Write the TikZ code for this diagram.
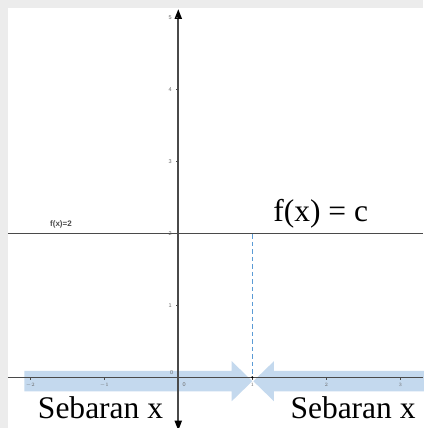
\documentclass[tikz,border=0pt]{standalone}
\usepackage{fontspec}
\setmainfont{Liberation Serif}
\setsansfont{Liberation Sans}
\usetikzlibrary{arrows.meta}
\definecolor{pgback}{HTML}{ECECEC}
\definecolor{axgray}{HTML}{4A4A4A}
\definecolor{bandblue}{HTML}{C4D9EE}
\definecolor{dashblue}{HTML}{5B9BD5}
\definecolor{tickgray}{HTML}{6A6A6A}

\begin{document}
\begin{tikzpicture}[x=74pt, y=72pt, line width=1.4pt,
    bigtext/.style={font=\fontsize{31.5}{32}\selectfont, inner sep=0pt},
    ticklab/.style={font=\sffamily\fontsize{5.5}{5.5}\selectfont, text=tickgray, inner sep=0pt}]
  % page and plot area
  \fill[pgback] (-2.409,-0.704) rectangle (3.307,5.240);
  \fill[white] (-2.301,-0.704) rectangle (3.307,5.129);
  \useasboundingbox (-2.409,-0.704) rectangle (3.307,5.240);
  % blue arrows (spread of x)
  \fill[bandblue] (-2.081,-0.197) -- (0.722,-0.197) -- (0.722,-0.332)
    -- (1.0,-0.054) -- (0.722,0.224) -- (0.722,0.089) -- (-2.081,0.089) -- cycle;
  \fill[bandblue] (3.4,-0.197) -- (1.293,-0.197) -- (1.293,-0.332)
    -- (1.014,-0.054) -- (1.293,0.224) -- (1.293,0.089) -- (3.4,0.089) -- cycle;
  % axes
  \draw[axgray, line width=1.3pt] (-2.301,0) -- (3.307,0);
  \draw[axgray, line width=2pt,
        {Triangle[length=10pt,width=7pt,color=black]}-{Triangle[length=10pt,width=7pt,color=black]}]
    (0,-0.74) -- (0,5.115);
  % ticks
  \foreach \t in {-2,-1,1,2,3}{
    \draw[axgray, line width=0.9pt] (\t,0) -- (\t,-0.035);
    \node[ticklab] (xl\t) at (\t,-0.107) {$\t$};
  }
  \node[ticklab] (xl0) at (0.08,-0.107) {0};
  \node[ticklab] (yl0) at (-0.09,0.065) {0};
  \foreach \t in {1,2,3,4,5}{
    \draw[axgray, line width=0.9pt] (0,\t) -- (-0.035,\t);
    \node[ticklab] (yl\t) at (-0.11,\t) {\t};
  }
  % constant function
  \draw[axgray, line width=1.3pt] (-2.301,2) -- (3.307,2);
  \node[font=\sffamily\bfseries\fontsize{8}{8}\selectfont, text=axgray, inner sep=0pt] (flab) at (-1.585,2.129) {f(x)=2};
  \coordinate (c) at (1,1.985);
  \coordinate (x1) at (1,0);
  \draw[dashblue, line width=1.3pt, dash pattern=on 4.5pt off 3pt] (c) -- (x1);
  \fill[black] (x1) circle (1.2pt);
  % labels
  \node[bigtext, anchor=base west] (fc) at (1.276,2.161) {f(x) = c};
  \node[bigtext, anchor=base west] (sbl) at (-1.905,-0.569) {Sebaran x};
  \node[bigtext, anchor=base west] (sbr) at (1.507,-0.569) {Sebaran x};
\end{tikzpicture}
\end{document}
